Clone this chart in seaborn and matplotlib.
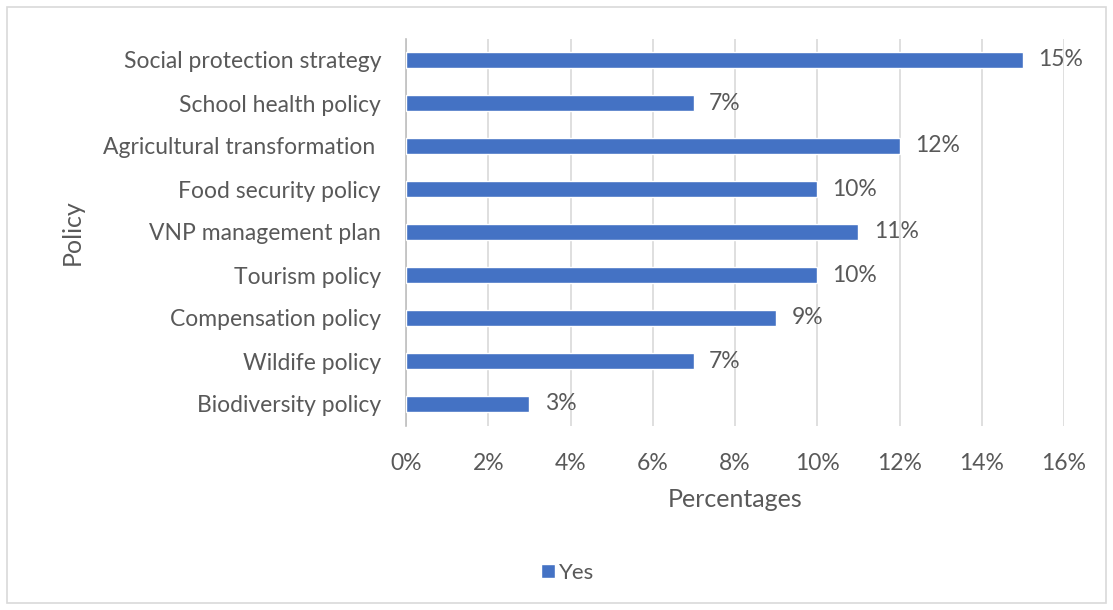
import matplotlib
matplotlib.use("Agg")
import matplotlib.pyplot as plt
import seaborn as sns
import pandas as pd
from matplotlib.ticker import FuncFormatter, MultipleLocator
from matplotlib.patches import Rectangle

policies = ["Social protection strategy", "School health policy", "Agricultural transformation ",
            "Food security policy", "VNP management plan", "Tourism policy",
            "Compensation policy", "Wildife policy", "Biodiversity policy"]
values = [15, 7, 12, 10, 11, 10, 9, 7, 3]
series_name = "Yes"

df = pd.DataFrame({"Policy": policies, "Percentages": values, "series": series_name})

sns.set_theme(style="white")
plt.rcParams['font.family'] = ['Lato', 'DejaVu Sans']
txt = "#595959"

fig = plt.figure(figsize=(11.13, 6.10), dpi=100)
fig.patches.append(Rectangle((7/1113, 7/610), 1 - 14/1113, 1 - 14/610, transform=fig.transFigure,
                             fill=False, edgecolor="#d9d9d9", linewidth=1.2))
ax = fig.add_axes([406/1113, 1 - 425.5/610, (1064 - 406)/1113, (425.5 - 38.5)/610])

sns.barplot(data=df, y="Policy", x="Percentages", hue="series", palette=["#4472C4"],
            saturation=1, orient="h", width=0.37, ax=ax, legend=True, zorder=3)

ax.set_xlim(0, 16)
ax.xaxis.set_major_locator(MultipleLocator(2))
ax.xaxis.set_major_formatter(FuncFormatter(lambda v, p: f"{v:.0f}%"))
ax.grid(axis="x", color="#d9d9d9", linewidth=1.2, zorder=0)
ax.set_axisbelow(True)
for s in ["top", "right", "bottom"]:
    ax.spines[s].set_visible(False)
ax.spines["left"].set_color("#bfbfbf")
ax.spines["left"].set_linewidth(1.2)
ax.tick_params(axis="both", length=0, labelsize=16.5, labelcolor=txt)
ax.tick_params(axis="x", pad=20)
ax.tick_params(axis="y", pad=18)

for c in ax.containers:
    ax.bar_label(c, labels=[f"{v}%" for v in values], padding=11, fontsize=16.5, color=txt)

ax.set_xlabel("Percentages", fontsize=18, color=txt, labelpad=10)
ax.set_ylabel("Policy", fontsize=18, color=txt, labelpad=14)

ax.legend_.remove()
handles, labels = ax.get_legend_handles_labels()
fig.legend(handles, labels, loc="center", bbox_to_anchor=(568/1113, 1 - 573/610), frameon=False,
           fontsize=16, labelcolor=txt, handlelength=0.6, handleheight=0.6, handletextpad=0.2)

fig.savefig("out.png", dpi=100)
